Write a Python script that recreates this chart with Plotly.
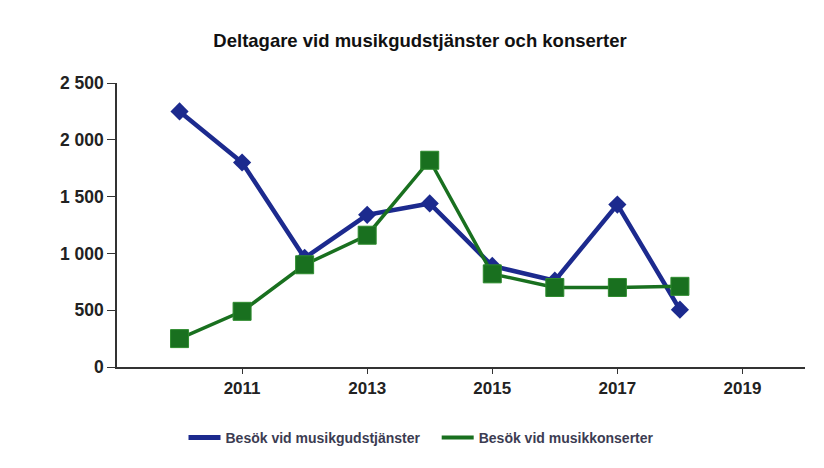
import plotly.graph_objects as go

years = [2010, 2011, 2012, 2013, 2014, 2015, 2016, 2017, 2018]
gudstjanster = [2250, 1800, 960, 1340, 1440, 890, 760, 1430, 505]
konserter = [250, 490, 900, 1160, 1820, 820, 700, 700, 710]
series_names = ["Besök vid musikgudstjänster", "Besök vid musikkonserter"]
y_ticks = [0, 500, 1000, 1500, 2000, 2500]
y_labels = ["0", "500", "1 000", "1 500", "2 000", "2 500"]
x_ticks = [2011, 2013, 2015, 2017, 2019]
title = "Deltagare vid musikgudstjänster och konserter"

blue = "#1c2a8e"
green = "#19701f"
font = "Liberation Sans, Arial, sans-serif"

fig = go.Figure()
fig.add_trace(go.Scatter(
    x=years, y=gudstjanster, name=series_names[0], mode="lines+markers", showlegend=False,
    line=dict(color=blue, width=4.5),
    marker=dict(symbol="diamond", size=14, color=blue),
))
fig.add_trace(go.Scatter(
    x=years, y=konserter, name=series_names[1], mode="lines+markers", showlegend=False,
    line=dict(color=green, width=3.5),
    marker=dict(symbol="square", size=18, color=green, line=dict(color="#2e8b2e", width=1)),
))
# legend entries (line only, as in the reference)
fig.add_trace(go.Scatter(x=[None], y=[None], name="<b>" + series_names[0] + "</b>\u00a0\u00a0\u00a0",
                         mode="lines", line=dict(color=blue, width=5)))
fig.add_trace(go.Scatter(x=[None], y=[None], name="<b>" + series_names[1] + "</b>",
                         mode="lines", line=dict(color=green, width=4)))

fig.update_layout(
    width=824, height=468,
    paper_bgcolor="white", plot_bgcolor="white",
    margin=dict(l=109, r=27, t=75, b=109),
    title=dict(text="<b>" + title + "</b>", x=0.5, xanchor="center", y=0.93, yanchor="middle",
               font=dict(family=font, size=18.5, color="#111111")),
    showlegend=True,
    legend=dict(orientation="h", x=0.4426, xanchor="center", y=-0.25, yanchor="middle",
                font=dict(family=font, size=14, color="#3c3c52"), itemwidth=32),
    xaxis=dict(range=[2009, 2020], tickvals=x_ticks, ticktext=["<b>%d</b>" % v for v in x_ticks],
               showgrid=False, zeroline=False,
               showline=True, linecolor="#333333", linewidth=1.5,
               ticks="outside", ticklen=5, tickcolor="#333333",
               tickfont=dict(family=font, size=17, color="#222222")),
    yaxis=dict(range=[0, 2500], tickvals=y_ticks, ticktext=["<b>" + t + "</b>" for t in y_labels],
               showgrid=False, zeroline=False,
               showline=True, linecolor="#333333", linewidth=1.5,
               ticks="outside", ticklen=8, tickcolor="#333333",
               tickfont=dict(family=font, size=17.5, color="#222222")),
)
fig.write_html("out.html")
